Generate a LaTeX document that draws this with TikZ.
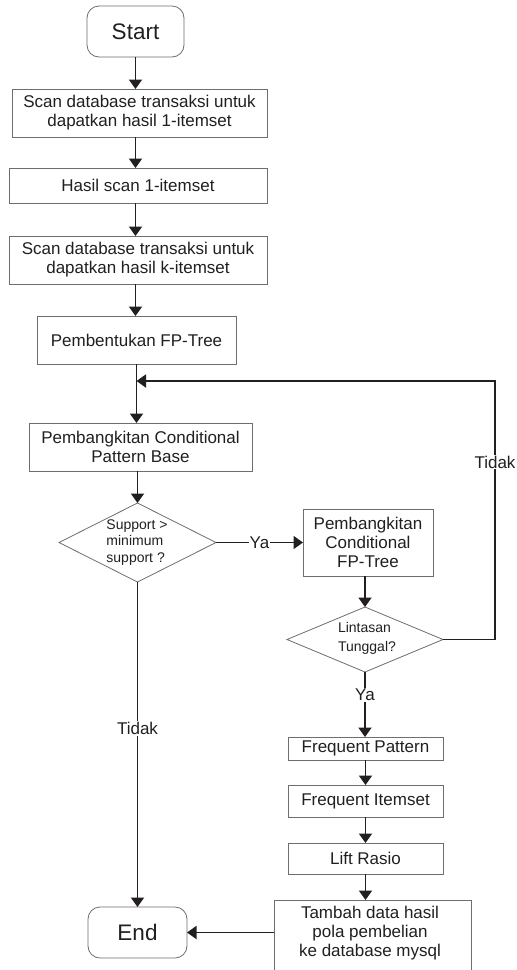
\documentclass[tikz,border=0pt]{standalone}
\usepackage{fontspec}
\setmainfont{Liberation Sans}
\usetikzlibrary{shapes.geometric,arrows.meta,calc}
\definecolor{ink}{HTML}{231F20}
\definecolor{frame}{HTML}{6D6E71}
\begin{document}
\begin{tikzpicture}[x=1pt,y=-1pt,
  box/.style={draw=frame,line width=0.8pt,rectangle,inner sep=0pt,outer sep=0pt,text=ink,font=\fontsize{17}{19}\selectfont,align=center},
  term/.style={box,rounded corners=12pt,font=\fontsize{22.5}{26}\selectfont},
  dia/.style={draw=frame,line width=0.8pt,diamond,inner sep=0pt,outer sep=0pt},
  dtxt/.style={text=ink,font=\fontsize{14}{16.5}\selectfont,align=left,inner sep=0pt},
  lbl/.style={text=ink,font=\fontsize{17}{19}\selectfont,fill=white,inner sep=1pt},
  arr/.style={draw=ink,line width=1.9pt,-{Triangle[width=13pt,length=9.5pt]}},
]
\fill[white] (0,0) rectangle (517,970);
\useasboundingbox (0,0) rectangle (517,970);

\node[term,minimum width=97pt,minimum height=51pt] (start) at (135.5,31.5) {Start};
\node[box,minimum width=255pt,minimum height=48pt] (b1) at (139.5,113) {Scan database transaksi untuk\\dapatkan hasil 1-itemset};
\node[box,minimum width=258pt,minimum height=35pt] (b2) at (138,185.5) {Hasil scan 1-itemset};
\node[box,minimum width=258pt,minimum height=48pt] (b3) at (138,260) {Scan database transaksi untuk\\dapatkan hasil k-itemset};
\node[box,minimum width=199pt,minimum height=48pt] (b4) at (136.5,340) {Pembentukan FP-Tree};
\node[box,minimum width=223pt,minimum height=48pt] (b5) at (140.5,447) {Pembangkitan Conditional\\Pattern Base};
\node[dia,minimum width=157pt,minimum height=79pt] (d1) at (137.5,542.5) {};
\node[dtxt] (d1t) at (137,542.5) {Support >\\minimum\\support ?};
\node[box,minimum width=130pt,minimum height=67pt] (b6) at (368,542.5) {Pembangkitan\\Conditional\\FP-Tree};
\node[dia,minimum width=156pt,minimum height=65pt] (d2) at (365,639.5) {};
\node[dtxt,font=\fontsize{14}{19}\selectfont] (d2t) at (367,638) {Lintasan\\Tunggal?};
\node[box,minimum width=155pt,minimum height=23pt] (b7) at (365.5,748.5) {Frequent Pattern};
\node[box,minimum width=155pt,minimum height=32pt] (b8) at (365.5,801) {Frequent Itemset};
\node[box,minimum width=155pt,minimum height=31pt] (b9) at (365.5,858.5) {Lift Rasio};
\node[box,minimum width=197pt,minimum height=84pt] (b10) at (372.5,942) {};
\node[box,draw=none] (b10t) at (370,933) {Tambah data hasil\\pola pembelian\\ke database mysql};
\node[term,minimum width=99pt,minimum height=51pt] (End) at (137.5,932.5) {End};

\coordinate (fb) at (495,381);

\draw[arr] (start.south) -- (start.south |- b1.north);
\draw[arr] (start.south |- b1.south) -- (start.south |- b2.north);
\draw[arr] (start.south |- b2.south) -- (start.south |- b3.north);
\draw[arr] (start.south |- b3.south) -- (start.south |- b4.north);
\draw[arr] (b4.south) -- (b4.south |- b5.north);
\draw[arr] (d1.north |- b5.south) -- (d1.north);
\draw[arr] (d1.east) -- node[lbl] (ya1) {Ya} (b6.west);
\draw[arr] (d1.south) -- node[lbl,pos=0.45] (tidak1) {Tidak} (End.north);
\draw[arr] (d2.north |- b6.south) -- (d2.north);
\draw[arr] (d2.east) -| (fb) -- (b4.south |- fb);
\node[lbl] (tidak2) at (495,462) {Tidak};
\draw[arr] (d2.south) -- node[lbl,pos=0.35] (ya2) {Ya} (d2.south |- b7.north);
\draw[arr] (b7.south) -- (b7.south |- b8.north);
\draw[arr] (b8.south) -- (b8.south |- b9.north);
\draw[arr] (b9.south) -- (b9.south |- b10.north);
\draw[arr] (b10.west |- End.east) -- (End.east);
\end{tikzpicture}
\end{document}
